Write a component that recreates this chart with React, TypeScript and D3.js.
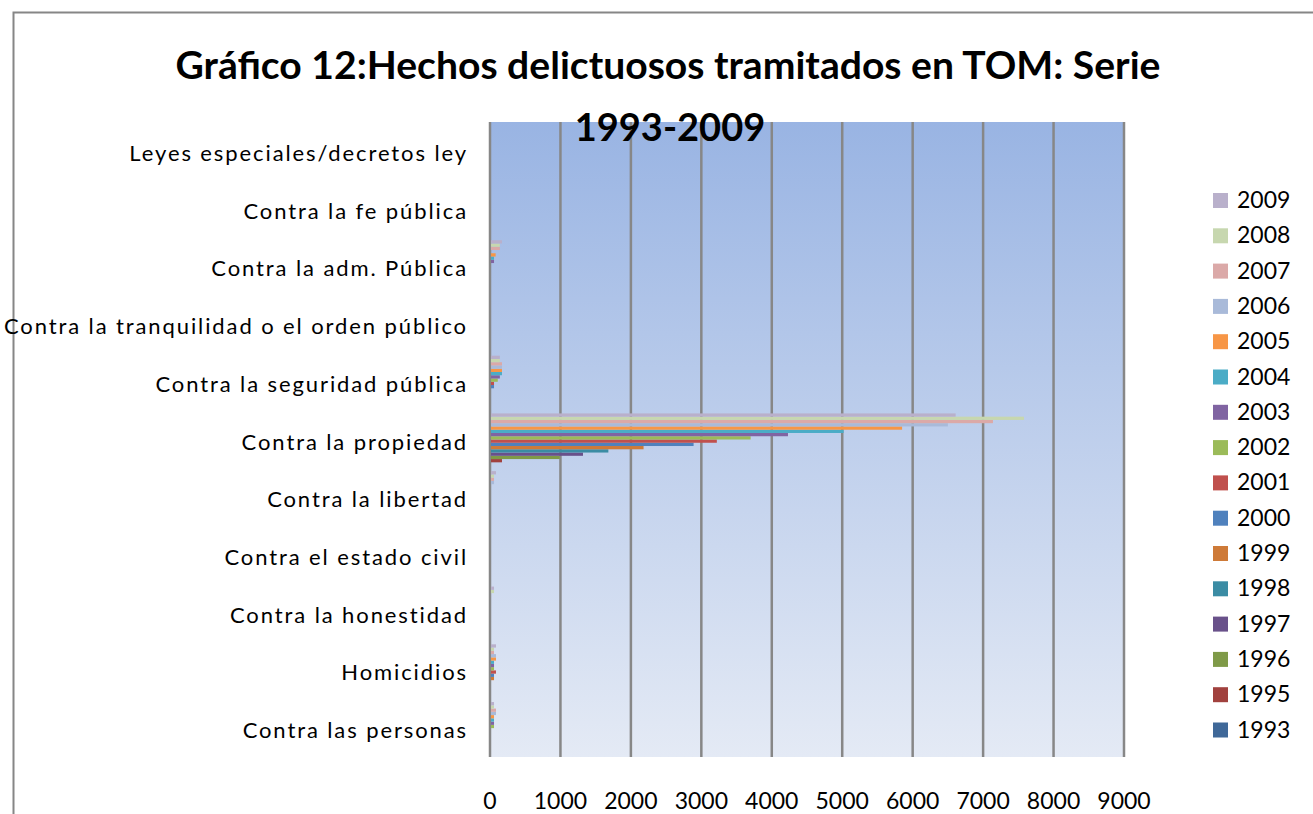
import { useRef, useEffect } from "react";
import * as d3 from "d3";

// categories, bottom to top as in the sheet
const categories = [
    "Contra las personas",
    "Homicidios",
    "Contra la honestidad",
    "Contra el estado civil",
    "Contra la libertad",
    "Contra la propiedad",
    "Contra la seguridad pública",
    "Contra la tranquilidad o el orden público",
    "Contra la adm. Pública",
    "Contra la fe pública",
    "Leyes especiales/decretos ley"
];

const years = ["1993", "1995", "1996", "1997", "1998", "1999", "2000", "2001", "2002", "2003", "2004", "2005", "2006", "2007", "2008", "2009"];

// one list per year, same order as categories
const v1993 = [0, 0, 0, 0, 0, 0, 0, 0, 0, 0, 0];
const v1995 = [0, 0, 0, 0, 0, 170, 0, 0, 0, 0, 0];
const v1996 = [0, 0, 0, 0, 0, 990, 0, 0, 0, 0, 0];
const v1997 = [0, 0, 0, 0, 0, 1320, 0, 0, 0, 0, 0];
const v1998 = [0, 0, 0, 0, 0, 1680, 0, 0, 0, 0, 0];
const v1999 = [0, 57, 0, 0, 0, 2180, 0, 0, 0, 0, 0];
const v2000 = [0, 57, 0, 0, 0, 2890, 57, 0, 0, 0, 0];
const v2001 = [0, 85, 0, 0, 0, 3220, 57, 0, 0, 0, 0];
const v2002 = [57, 57, 0, 0, 0, 3700, 110, 0, 0, 0, 0];
const v2003 = [57, 57, 0, 0, 0, 4230, 140, 0, 57, 0, 0];
const v2004 = [57, 57, 0, 0, 0, 5020, 170, 0, 57, 0, 0];
const v2005 = [57, 85, 0, 0, 0, 5850, 170, 0, 80, 0, 0];
const v2006 = [85, 85, 0, 0, 57, 6500, 170, 0, 0, 0, 0];
const v2007 = [85, 57, 0, 0, 57, 7140, 170, 0, 140, 0, 0];
const v2008 = [57, 57, 57, 0, 57, 7580, 140, 0, 140, 0, 0];
const v2009 = [57, 85, 57, 0, 85, 6610, 140, 0, 170, 0, 0];

const seriesValues = [v1993, v1995, v1996, v1997, v1998, v1999, v2000, v2001, v2002, v2003, v2004, v2005, v2006, v2007, v2008, v2009];

const xTicks = [0, 1000, 2000, 3000, 4000, 5000, 6000, 7000, 8000, 9000];

// office 2007 palette, dark shades first then base then light
const colors = {
    "1993": "#3F6898", "1995": "#A1413E", "1996": "#7F9A48", "1997": "#69518A",
    "1998": "#3B8CA4", "1999": "#CE7A38", "2000": "#4F81BD", "2001": "#C0504D",
    "2002": "#9BBB59", "2003": "#8064A2", "2004": "#4BACC6", "2005": "#F79646",
    "2006": "#A9BAD9", "2007": "#DBA9A8", "2008": "#C7D7AF", "2009": "#B9B0CB"
};

const App = () => {
    const ref = useRef(null);

    useEffect(() => {
        const width = 1313;
        const height = 814;
        const plot = { left: 490, right: 1124, top: 122, bottom: 757 };
        const font = "Lato, 'Open Sans', sans-serif";

        const svg = d3.create("svg")
            .attr("width", width)
            .attr("height", height)
            .style("position", "absolute")
            .style("left", "0px")
            .style("top", "0px");

        // ---------------- outer frame
        svg.append("rect")
            .attr("x", 13.5).attr("y", 12.5)
            .attr("width", width + 20).attr("height", height + 20)
            .attr("fill", "white")
            .attr("stroke", "#868686")
            .attr("stroke-width", 2);

        // ---------------- plot background gradient
        const grad = svg.append("defs").append("linearGradient")
            .attr("id", "bg").attr("x1", 0).attr("y1", 0).attr("x2", 0).attr("y2", 1);
        grad.append("stop").attr("offset", "0%").attr("stop-color", "#99B4E3");
        grad.append("stop").attr("offset", "100%").attr("stop-color", "#E4EAF5");

        svg.append("rect")
            .attr("x", plot.left).attr("y", plot.top)
            .attr("width", plot.right - plot.left)
            .attr("height", plot.bottom - plot.top)
            .attr("fill", "url(#bg)");

        // ---------------- scales
        const x = d3.scaleLinear().domain([0, 9000]).range([plot.left, plot.right]);

        const y = d3.scaleBand()
            .domain([...categories].reverse())
            .range([plot.top, plot.bottom]);

        const yInner = d3.scaleBand()
            .domain([...years].reverse())
            .range([0, y.bandwidth()])
            .paddingOuter(0.85);

        // ---------------- gridlines
        svg.append("g")
            .selectAll("line")
            .data(xTicks)
            .join("line")
            .attr("x1", d => x(d)).attr("x2", d => x(d))
            .attr("y1", plot.top).attr("y2", plot.bottom)
            .attr("stroke", "#878787")
            .attr("stroke-width", 2.5);

        // ---------------- bars
        const groups = svg.append("g")
            .selectAll("g")
            .data(categories)
            .join("g")
            .attr("transform", d => `translate(0, ${y(d)})`);

        groups.selectAll("rect")
            .data((c, ci) => years.map((yr, si) => ({ year: yr, value: seriesValues[si][ci] })))
            .join("rect")
            .attr("x", x(0) + 1)
            .attr("y", d => yInner(d.year))
            .attr("width", d => Math.max(0, x(d.value) - x(0) - 1))
            .attr("height", yInner.bandwidth())
            .attr("fill", d => colors[d.year]);

        // ---------------- category labels
        svg.append("g")
            .selectAll("text")
            .data(categories)
            .join("text")
            .attr("x", 468)
            .attr("y", d => y(d) + y.bandwidth() / 2 + 10)
            .attr("text-anchor", "end")
            .attr("font-family", font)
            .attr("font-size", 22)
            .attr("letter-spacing", 1.9)
            .attr("fill", "#000")
            .text(d => d);

        // ---------------- x tick labels
        svg.append("g")
            .selectAll("text")
            .data(xTicks)
            .join("text")
            .attr("x", d => x(d))
            .attr("y", 809)
            .attr("text-anchor", "middle")
            .attr("font-family", font)
            .attr("font-size", 23)
            .attr("fill", "#000")
            .text(d => d);

        // ---------------- legend
        const legend = svg.append("g")
            .selectAll("g")
            .data([...years].reverse())
            .join("g")
            .attr("transform", (d, i) => `translate(1213, ${200 + i * 35.3})`);

        legend.append("rect")
            .attr("x", 0).attr("y", -7)
            .attr("width", 15).attr("height", 15)
            .attr("fill", d => colors[d]);

        legend.append("text")
            .attr("x", 24).attr("y", 8)
            .attr("font-family", font)
            .attr("font-size", 23)
            .attr("fill", "#000")
            .text(d => d);

        // ---------------- title
        const title = svg.append("text")
            .attr("text-anchor", "middle")
            .attr("font-family", font)
            .attr("font-weight", "bold")
            .attr("font-size", 38)
            .attr("fill", "#000");
        title.append("tspan")
            .attr("x", 668).attr("y", 79)
            .attr("textLength", 985)
            .attr("lengthAdjust", "spacingAndGlyphs")
            .text("Gráfico 12:Hechos delictuosos tramitados en TOM: Serie");
        title.append("tspan")
            .attr("x", 670).attr("y", 141)
            .text("1993-2009");

        ref.current.appendChild(svg.node());
        return () => svg.node().remove();
    }, []);

    return <div ref={ref}></div>;
};

export default App;
